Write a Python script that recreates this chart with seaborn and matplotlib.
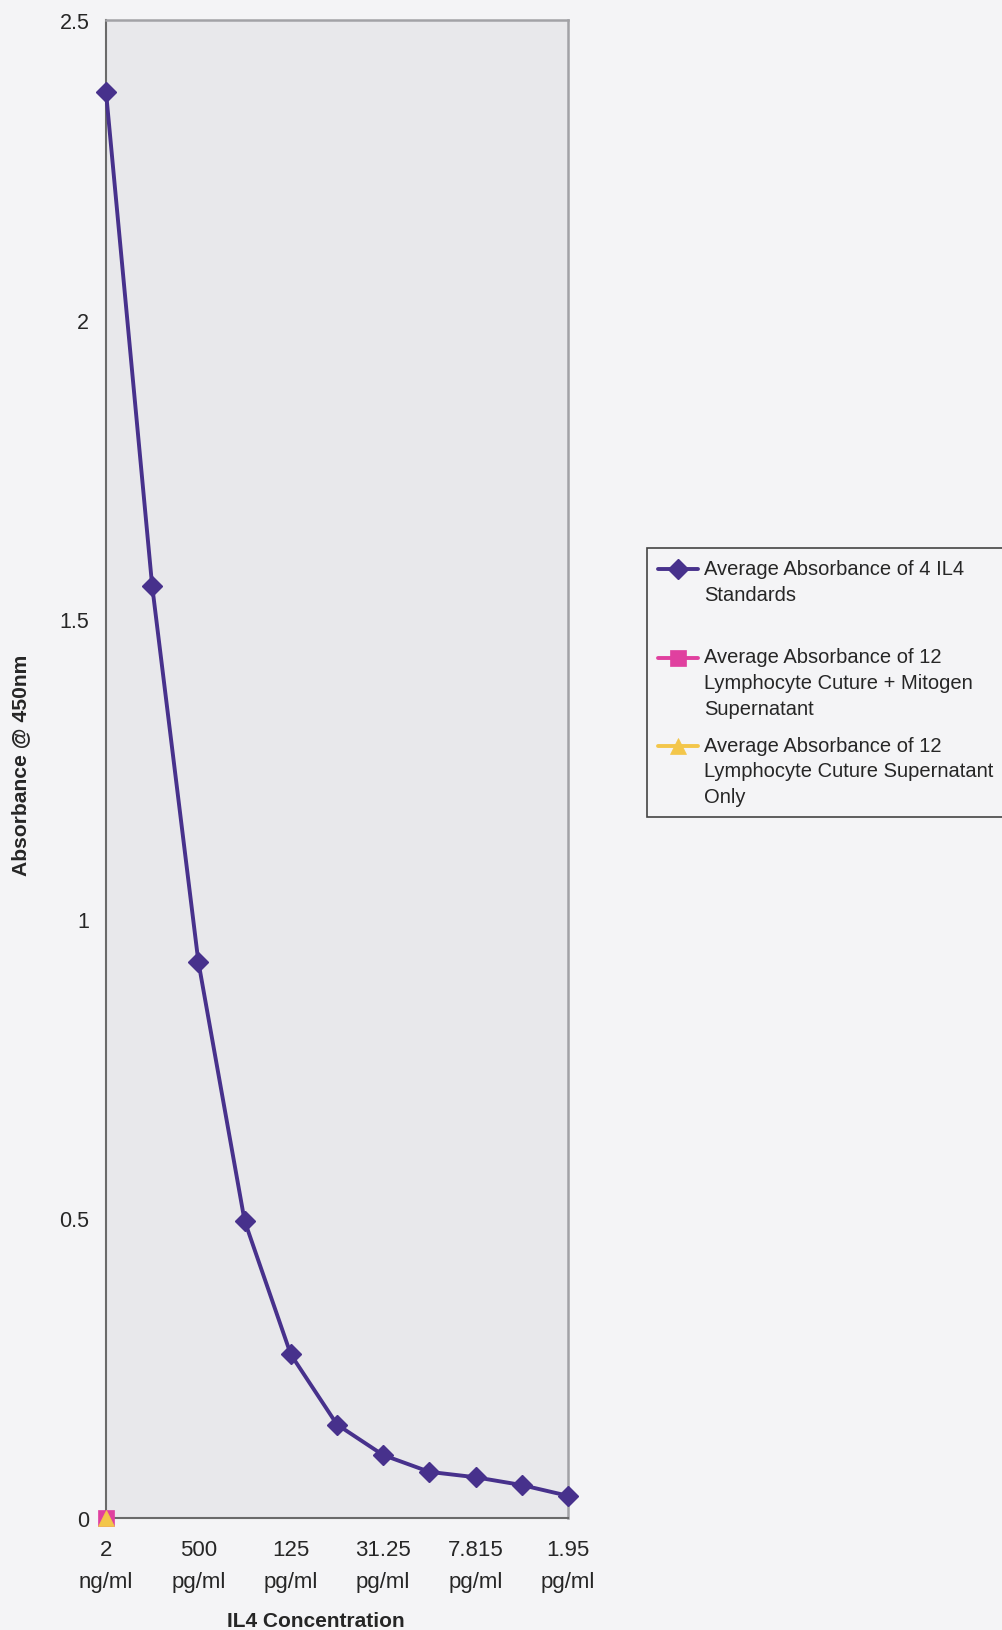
import numpy as np
import matplotlib
matplotlib.use("Agg")
import matplotlib.pyplot as plt
import seaborn as sns
from matplotlib.legend_handler import HandlerLine2D
from matplotlib.transforms import Affine2D

# IL4 standard curve: dilution series along the x axis (every other one labelled)
x_labels = ["2\nng/ml", "", "500\npg/ml", "", "125\npg/ml", "", "31.25\npg/ml",
            "", "7.815\npg/ml", "", "1.95\npg/ml"]
standards_abs = [2.38, 1.555, 0.928, 0.496, 0.273, 0.156, 0.105, 0.077, 0.068, 0.055, 0.037]
mitogen_abs = [0.0]
supernatant_abs = [0.0]

series_labels = [
    "Average Absorbance of 4 IL4\nStandards\n",
    "Average Absorbance of 12\nLymphocyte Cuture + Mitogen\nSupernatant",
    "Average Absorbance of 12\nLymphocyte Cuture Supernatant\nOnly",
]
y_ticks = [0, 0.5, 1, 1.5, 2, 2.5]
y_tick_labels = ["0", "0.5", "1", "1.5", "2", "2.5"]

PAGE = "#f4f4f6"
PLOT_BG = "#e8e8eb"
PURPLE = "#47318c"
PINK = "#e0409f"
YELLOW = "#f3c64a"
TEXT = "#262626"

sns.set_theme(style="white")
plt.rcParams["font.family"] = ["Liberation Sans", "DejaVu Sans"]

W, H = 1003, 1631
fig = plt.figure(figsize=(W / 100, H / 100), dpi=100, facecolor=PAGE)
left, right, top, bottom = 106, 568, 21, 1519
ax = fig.add_axes([left / W, 1 - bottom / H, (right - left) / W, (bottom - top) / H])
ax.set_facecolor(PLOT_BG)

pos = np.arange(len(x_labels))
sns.lineplot(x=pos, y=standards_abs, ax=ax, color=PURPLE, lw=2.8, marker="D",
             markersize=10, markeredgecolor=PURPLE, markeredgewidth=1,
             clip_on=False, zorder=4, label=series_labels[0])
sns.lineplot(x=pos[:1], y=mitogen_abs, ax=ax, color=PINK, lw=2.8, marker="s",
             markersize=12, markeredgecolor=PINK, markeredgewidth=0.5,
             clip_on=False, zorder=5, label=series_labels[1])
sns.lineplot(x=pos[:1], y=supernatant_abs, ax=ax, color=YELLOW, lw=2.8, marker="^",
             markersize=12, markeredgecolor=YELLOW, markeredgewidth=0.5,
             clip_on=False, zorder=6, label=series_labels[2])

ax.set_xlim(0, len(x_labels) - 1)
ax.set_ylim(0, 2.5)
ax.set_xticks(pos, x_labels)
ax.set_yticks(y_ticks, y_tick_labels)
ax.tick_params(axis="x", direction="inout", length=10, width=1.2, color="#6a6a6a",
               pad=10, labelsize=16, labelcolor=TEXT)
ax.tick_params(axis="y", direction="out", length=6, width=1.2, color="#6a6a6a",
               pad=6, labelsize=15.5, labelcolor=TEXT)
for lbl in ax.get_xticklabels():
    lbl.set_linespacing(1.7)

for side in ("left", "bottom"):
    ax.spines[side].set_color("#6a6a6a")
    ax.spines[side].set_linewidth(1.5)
for side in ("top", "right"):
    ax.spines[side].set_color("#a2a2a6")
    ax.spines[side].set_linewidth(1.8)

ax.set_xlabel("IL4 Concentration", fontsize=15, fontweight="bold", color=TEXT)
ax.set_ylabel("Absorbance @ 450nm", fontsize=15.2, fontweight="bold", color=TEXT)
ax.xaxis.set_label_coords(0.455, -0.062)
ax.yaxis.set_label_coords(-0.165, 0.503)


class FirstLineHandler(HandlerLine2D):
    """Line+marker handle lifted to sit beside the first line of a multi-line label."""

    def __init__(self, rise, **kw):
        super().__init__(**kw)
        self.rise = rise

    def create_artists(self, legend, orig_handle, xdescent, ydescent, width,
                       height, fontsize, trans):
        lifted = Affine2D().translate(0, self.rise) + trans
        return super().create_artists(legend, orig_handle, xdescent, ydescent,
                                      width, height, fontsize, lifted)


legend_fs = 14.5
pitch_pt = 18.2
handles, labels = ax.get_legend_handles_labels()
handler_map = {h: FirstLineHandler((lab.count("\n")) / 2 * pitch_pt)
               for h, lab in zip(handles, labels)}
leg = fig.legend(handles, labels, loc="upper left",
                 bbox_to_anchor=(647 / W, 1 - 549 / H), bbox_transform=fig.transFigure,
                 frameon=True, fancybox=False, shadow=False, framealpha=1,
                 facecolor=PAGE, edgecolor="#444444", fontsize=legend_fs,
                 numpoints=1, handlelength=2.0, handletextpad=0.3, borderpad=0.55,
                 labelspacing=0.9, borderaxespad=0, handler_map=handler_map)
leg.get_frame().set_linewidth(1.2)
for t in leg.get_texts():
    t.set_linespacing(1.44)
    t.set_color(TEXT)

if ax.get_legend() is not None:
    ax.get_legend().remove()

fig.savefig("out.png", dpi=100, facecolor=PAGE)
